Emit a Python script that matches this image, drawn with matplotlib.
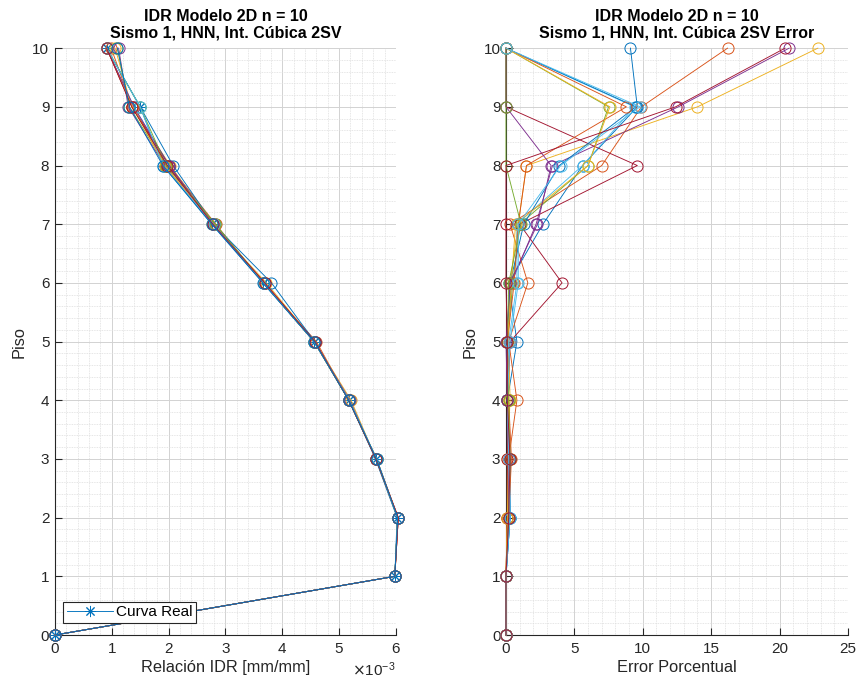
import matplotlib.pyplot as plt
import matplotlib.ticker as mticker
import numpy as np

# MATLAB default colour order
colores = ['#0072BD', '#D95319', '#EDB120', '#7E2F8E', '#77AC30', '#4DBEEE', '#A2142F']

pisos = [0, 1, 2, 3, 4, 5, 6, 7, 8, 9, 10]

# Curva real (IDR, mm/mm)
idr_real = [0, 5.98e-3, 6.02e-3, 5.64e-3, 5.17e-3, 4.56e-3, 3.66e-3, 2.76e-3, 1.90e-3, 1.50e-3, 0.91e-3]

# Curvas interpoladas (x1e-3)
idr_modelos = [
    [0, 5.98, 6.04, 5.65, 5.17, 4.60, 3.67, 2.83, 2.01, 1.36, 0.99],
    [0, 5.98, 6.03, 5.65, 5.21, 4.57, 3.72, 2.77, 2.03, 1.35, 1.06],
    [0, 5.98, 6.03, 5.65, 5.19, 4.57, 3.67, 2.78, 1.93, 1.29, 1.12],
    [0, 5.98, 6.03, 5.66, 5.17, 4.56, 3.67, 2.82, 1.96, 1.31, 1.10],
    [0, 5.98, 6.03, 5.66, 5.17, 4.56, 3.68, 2.79, 2.01, 1.39, 0.91],
    [0, 5.98, 6.04, 5.65, 5.17, 4.57, 3.69, 2.78, 2.01, 1.36, 0.91],
    [0, 5.98, 6.03, 5.65, 5.17, 4.57, 3.81, 2.79, 2.08, 1.50, 0.91],
    [0, 5.98, 6.04, 5.66, 5.17, 4.56, 3.67, 2.80, 1.97, 1.36, 0.91],
    [0, 5.98, 6.03, 5.66, 5.18, 4.56, 3.68, 2.78, 1.93, 1.37, 0.91],
    [0, 5.98, 6.03, 5.65, 5.18, 4.56, 3.67, 2.78, 2.01, 1.39, 0.91],
    [0, 5.98, 6.03, 5.65, 5.17, 4.56, 3.67, 2.82, 1.96, 1.50, 0.91],
    [0, 5.98, 6.03, 5.66, 5.18, 4.56, 3.67, 2.79, 1.90, 1.50, 0.91],
    [0, 5.98, 6.04, 5.65, 5.17, 4.57, 3.69, 2.78, 1.98, 1.35, 0.91],
    [0, 5.98, 6.03, 5.66, 5.17, 4.56, 3.66, 2.76, 1.90, 1.31, 1.10],
]

# Error porcentual de cada curva
error_modelos = [
    [0, 0, 0.3, 0.2, 0.1, 0.8, 0.2, 2.7, 5.6, 9.6, 9.1],
    [0, 0, 0.1, 0.2, 0.8, 0.2, 1.6, 0.3, 7.0, 9.9, 16.2],
    [0, 0, 0.1, 0.1, 0.3, 0.2, 0.3, 0.9, 1.5, 14.0, 22.8],
    [0, 0, 0.2, 0.3, 0.1, 0.1, 0.4, 2.2, 3.4, 12.6, 20.7],
    [0, 0, 0.2, 0.3, 0.1, 0.1, 0.5, 1.0, 6.0, 7.5, 0],
    [0, 0, 0.3, 0.2, 0.1, 0.2, 0.8, 0.8, 5.6, 9.4, 0],
    [0, 0, 0.1, 0.1, 0.1, 0.3, 4.1, 1.0, 9.6, 0, 0],
    [0, 0, 0.3, 0.3, 0.1, 0.1, 0.3, 1.3, 3.9, 9.5, 0],
    [0, 0, 0.2, 0.4, 0.2, 0.1, 0.6, 0.9, 1.5, 8.8, 0],
    [0, 0, 0.1, 0.2, 0.2, 0.1, 0.4, 0.7, 6.0, 7.6, 0],
    [0, 0, 0.2, 0.2, 0.1, 0.0, 0.3, 2.3, 3.3, 0, 0],
    [0, 0, 0.2, 0.3, 0.2, 0.1, 0.2, 1.1, 0.0, 0, 0],
    [0, 0, 0.3, 0.2, 0.1, 0.3, 0.9, 0.9, 4.0, 9.8, 0],
    [0, 0, 0.2, 0.3, 0.1, 0.1, 0.0, 0.0, 0.0, 12.4, 20.4],
]

titulo = "IDR Modelo 2D n = 10\nSismo 1, HNN, Int. Cúbica 2SV"

plt.rcParams['font.family'] = ['Liberation Sans', 'DejaVu Sans']
txt = '#262626'
asterisco = (8, 2, 0)  # MATLAB-like '*' marker


def estilo_matlab(ax, xmaj, xmin):
    ax.set_ylim(0, 10)
    ax.yaxis.set_major_locator(mticker.MultipleLocator(1))
    ax.yaxis.set_minor_locator(mticker.MultipleLocator(0.2))
    ax.xaxis.set_major_locator(mticker.MultipleLocator(xmaj))
    ax.xaxis.set_minor_locator(mticker.MultipleLocator(xmin))
    ax.grid(which='major', color='#d2d2d2', linewidth=0.7)
    ax.grid(which='minor', color='#dedede', linewidth=0.6, linestyle=(0, (1, 1)))
    ax.set_axisbelow(True)
    for s in ['top', 'right']:
        ax.spines[s].set_visible(False)
    for s in ['left', 'bottom']:
        ax.spines[s].set_color(txt)
        ax.spines[s].set_linewidth(0.8)
    ax.tick_params(which='major', direction='in', length=5, colors=txt, labelsize=11, width=0.8)
    ax.tick_params(axis='y', which='major', pad=4)
    ax.tick_params(axis='x', which='major', pad=5)
    ax.tick_params(which='minor', length=0)


fig = plt.figure(figsize=(8.58, 6.84), dpi=100)
ax1 = fig.add_axes([0.064, 0.0716, 0.3975, 0.858])
ax2 = fig.add_axes([0.5897, 0.0716, 0.3986, 0.858])

# --- Left: IDR curves
ax1.plot(idr_real, pisos, '-', marker=asterisco, color=colores[0], lw=0.65, ms=8, mew=0.7,
         label='Curva Real', clip_on=False, zorder=3)
for k, m in enumerate(idr_modelos):
    ax1.plot(np.array(m) * 1e-3, pisos, '-o', color=colores[(k + 1) % 7], lw=0.65,
             ms=8, mfc='none', mew=0.7, clip_on=False, zorder=3)
ax1.set_xlim(0, 6e-3)
estilo_matlab(ax1, 1e-3, 0.2e-3)
fmt = mticker.ScalarFormatter(useMathText=True)
fmt.set_powerlimits((-3, -3))
ax1.xaxis.set_major_formatter(fmt)
ax1.xaxis.get_offset_text().set_fontsize(11)
ax1.xaxis.get_offset_text().set_color(txt)
ax1.set_title(titulo, fontsize=11.5, fontweight='bold', color='black', pad=8, linespacing=1.05)
ax1.set_xlabel('Relación IDR [mm/mm]', fontsize=11.8, color=txt, labelpad=3)
ax1.set_ylabel('Piso', fontsize=11.8, color=txt)
leg = ax1.legend(loc='lower left', bbox_to_anchor=(0.025, 0.02), fontsize=11,
                 fancybox=False, edgecolor=txt, framealpha=1, borderpad=0.25,
                 handlelength=3.0, handletextpad=0.2, borderaxespad=0)
leg.get_frame().set_linewidth(0.8)

# --- Right: percent error
for k, e in enumerate(error_modelos):
    ax2.plot(e, pisos, '-o', color=colores[k % 7], lw=0.65, ms=8, mfc='none',
             mew=0.7, clip_on=False, zorder=3)
ax2.set_xlim(0, 25)
estilo_matlab(ax2, 5, 1)
ax2.set_title(titulo + " Error", fontsize=11.5, fontweight='bold', color='black', pad=8, linespacing=1.05)
ax2.set_xlabel('Error Porcentual', fontsize=11.8, color=txt, labelpad=3)
ax2.set_ylabel('Piso', fontsize=11.8, color=txt)

fig.savefig('out.png', dpi=100)
